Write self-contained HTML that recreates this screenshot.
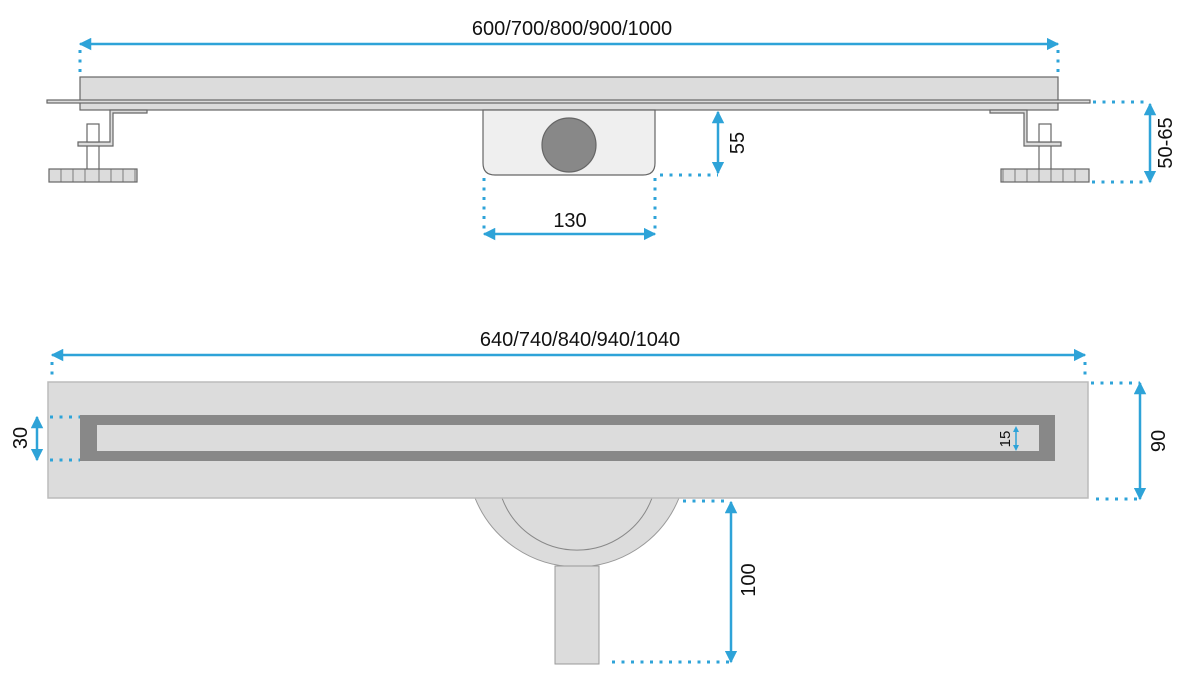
<!DOCTYPE html>
<html><head><meta charset="utf-8"><style>
html,body{margin:0;padding:0;background:#fff;}
svg{display:block;}
text{font-family:"Liberation Sans",sans-serif;fill:#111;}
</style></head><body>
<svg width="1200" height="689" viewBox="0 0 1200 689" xmlns="http://www.w3.org/2000/svg">
<defs>
<marker id="a" viewBox="0 0 10 10" refX="9" refY="5" markerWidth="5" markerHeight="5" orient="auto-start-reverse" markerUnits="strokeWidth">
<path d="M0,0 L10,5 L0,10 Z" fill="#2ea3d8"/></marker>
</defs>
<!-- top drawing -->
<g stroke="#666" stroke-width="1.2">
<rect x="80" y="77" width="978" height="33" fill="#dcdcdc"/>
<rect x="47" y="100" width="1043" height="3" fill="#dcdcdc"/>
<path d="M110,110 H147 V113 H113 V146 H78 V142 H110 Z" fill="#dcdcdc"/>
<rect x="87" y="124" width="12" height="18" fill="#fff"/>
<line x1="87" y1="146" x2="87" y2="169"/><line x1="99" y1="146" x2="99" y2="169"/>
<rect x="49" y="169" width="88" height="13" fill="#dcdcdc"/>
<path d="M1027,110 H990 V113 H1024 V146 H1061 V142 H1027 Z" fill="#dcdcdc"/>
<rect x="1039" y="124" width="12" height="18" fill="#fff"/>
<line x1="1039" y1="146" x2="1039" y2="169"/><line x1="1051" y1="146" x2="1051" y2="169"/>
<rect x="1001" y="169" width="88" height="13" fill="#dcdcdc"/>
<path d="M483,110 H655 V163 Q655,175 643,175 H495 Q483,175 483,163 Z" fill="#efefef"/>
<circle cx="569" cy="145" r="27" fill="#888"/>
</g>
<g stroke="#666" stroke-width="0.8">
<line x1="61" y1="169" x2="61" y2="182"/><line x1="73" y1="169" x2="73" y2="182"/><line x1="85" y1="169" x2="85" y2="182"/><line x1="99" y1="169" x2="99" y2="182"/><line x1="111" y1="169" x2="111" y2="182"/><line x1="123" y1="169" x2="123" y2="182"/><line x1="135" y1="169" x2="135" y2="182"/>
<line x1="1003" y1="169" x2="1003" y2="182"/><line x1="1015" y1="169" x2="1015" y2="182"/><line x1="1027" y1="169" x2="1027" y2="182"/><line x1="1039" y1="169" x2="1039" y2="182"/><line x1="1051" y1="169" x2="1051" y2="182"/><line x1="1063" y1="169" x2="1063" y2="182"/><line x1="1075" y1="169" x2="1075" y2="182"/>
</g>
<!-- bottom drawing -->
<path d="M475,498 A110,110 0 0 0 679,498 Z" fill="#dcdcdc" stroke="#999" stroke-width="1"/>
<path d="M502,498 A80,80 0 0 0 652,498" fill="none" stroke="#888" stroke-width="1"/>
<rect x="555" y="566" width="44" height="98" fill="#dcdcdc" stroke="#999"/>
<rect x="48" y="382" width="1040" height="116" fill="#dcdcdc" stroke="#bbb" stroke-width="1.5"/>
<rect x="80" y="415" width="975" height="46" fill="#888"/>
<rect x="97" y="425" width="942" height="26" fill="#dcdcdc"/>

<g fill="none" stroke="#2ea3d8" stroke-width="3" stroke-dasharray="3 6.5">
<line x1="80" y1="50" x2="80" y2="76"/><line x1="1058" y1="50" x2="1058" y2="76"/>
<line x1="660" y1="175" x2="718" y2="175"/>
<line x1="484" y1="178" x2="484" y2="232"/><line x1="655" y1="178" x2="655" y2="232"/>
<line x1="1093" y1="102" x2="1150" y2="102"/><line x1="1092" y1="182" x2="1148" y2="182"/>
<line x1="52" y1="362" x2="52" y2="380"/><line x1="1085" y1="362" x2="1085" y2="380"/>
<line x1="50" y1="417" x2="80" y2="417"/><line x1="50" y1="460" x2="80" y2="460"/>
<line x1="1091" y1="383" x2="1140" y2="383"/><line x1="1096" y1="499" x2="1140" y2="499"/>
<line x1="683" y1="501" x2="730" y2="501"/><line x1="612" y1="662" x2="730" y2="662"/>
</g>
<g stroke="#2ea3d8" stroke-width="2.5" fill="none">
<line x1="80" y1="44" x2="1058" y2="44" marker-start="url(#a)" marker-end="url(#a)"/>
<line x1="718" y1="112" x2="718" y2="173" marker-start="url(#a)" marker-end="url(#a)"/>
<line x1="484" y1="234" x2="655" y2="234" marker-start="url(#a)" marker-end="url(#a)"/>
<line x1="1150" y1="104" x2="1150" y2="182" marker-start="url(#a)" marker-end="url(#a)"/>
<line x1="52" y1="355" x2="1085" y2="355" marker-start="url(#a)" marker-end="url(#a)"/>
<line x1="37" y1="417" x2="37" y2="460" marker-start="url(#a)" marker-end="url(#a)"/>
<line x1="1140" y1="383" x2="1140" y2="499" marker-start="url(#a)" marker-end="url(#a)"/>
<line x1="731" y1="502" x2="731" y2="662" marker-start="url(#a)" marker-end="url(#a)"/>
</g>
<line x1="1016" y1="430" x2="1016" y2="447" stroke="#2ea3d8" stroke-width="1.5"/>
<path d="M1013,432 L1016,426 L1019,432 Z M1013,445 L1016,451 L1019,445 Z" fill="#2ea3d8"/>
<!-- labels -->
<text x="572" y="35" font-size="20" text-anchor="middle">600/700/800/900/1000</text>
<text x="570" y="227" font-size="20" text-anchor="middle">130</text>
<text x="580" y="346" font-size="20" text-anchor="middle">640/740/840/940/1040</text>
<text transform="translate(744,143) rotate(-90)" font-size="20" text-anchor="middle">55</text>
<text transform="translate(1172,143) rotate(-90)" font-size="20" text-anchor="middle">50-65</text>
<text transform="translate(27,438) rotate(-90)" font-size="20" text-anchor="middle">30</text>
<text transform="translate(1165,441) rotate(-90)" font-size="20" text-anchor="middle">90</text>
<text transform="translate(755,580) rotate(-90)" font-size="20" text-anchor="middle">100</text>
<text transform="translate(1010,439) rotate(-90)" font-size="15" text-anchor="middle">15</text>
</svg>
</body></html>
